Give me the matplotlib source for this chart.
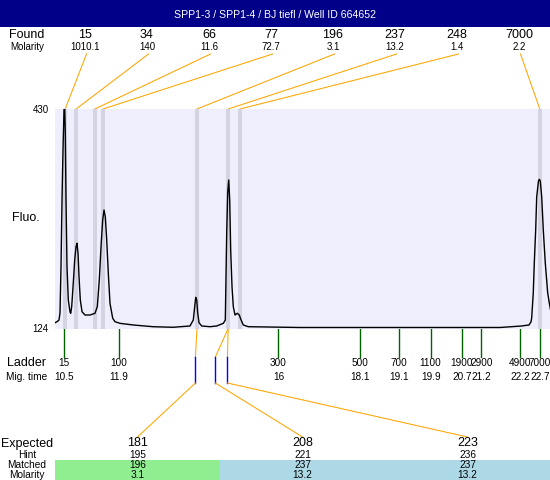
import matplotlib
matplotlib.use('Agg')
import matplotlib.pyplot as plt
from matplotlib.patches import Rectangle
from matplotlib.transforms import blended_transform_factory

plt.rcParams['font.family'] = ['Liberation Sans', 'DejaVu Sans']

title = "SPP1-3 / SPP1-4 / BJ tiefl / Well ID 664652"

# electropherogram trace: migration time vs fluorescence
trace_time = [10.269, 10.321, 10.372, 10.397, 10.423, 10.449, 10.474, 10.50, 10.515,
              10.533, 10.551, 10.577, 10.610, 10.654, 10.672, 10.697, 10.738, 10.774,
              10.808, 10.833, 10.859, 10.885, 10.918, 10.962, 11.038, 11.167, 11.295,
              11.354, 11.405, 11.449, 11.492, 11.526, 11.559, 11.595, 11.636, 11.679,
              11.749, 11.808, 11.936, 12.277, 12.782, 13.295, 13.731, 13.815, 13.851,
              13.877, 13.903, 13.928, 13.962, 14.031, 14.244, 14.415, 14.585, 14.636,
              14.672, 14.697, 14.723, 14.749, 14.774, 14.808, 14.841, 14.885, 14.944,
              14.995, 15.031, 15.097, 15.226, 16.551, 19.115, 21.679, 22.236, 22.321,
              22.423, 22.474, 22.492, 22.533, 22.559, 22.595, 22.621, 22.667, 22.687,
              22.713, 22.749, 22.790, 22.841, 22.903, 22.944, 22.987]
trace_fluo = [132.1, 133.5, 135.8, 145.6, 209.7, 303.1, 372.8, 428.5, 438.0,
              396.5, 303.1, 209.7, 163.7, 147.0, 145.2, 154.4, 187.4, 219.5,
              238.0, 242.8, 229.2, 196.2, 163.7, 147.4, 142.8, 142.8, 145.2,
              154.4, 191.6, 238.0, 275.2, 289.2, 279.8, 247.4, 201.0, 159.1,
              138.2, 133.5, 131.2, 128.9, 126.5, 125.7, 127.5, 135.8, 154.4,
              167.5, 163.7, 145.6, 132.1, 127.5, 126.5, 127.5, 131.2, 135.8,
              257.1, 312.9, 331.0, 303.1, 233.4, 182.3, 154.4, 142.8, 145.2,
              142.8, 137.2, 128.9, 126.5, 125.4, 125.4, 125.4, 127.5, 128.2,
              128.9, 133.1, 138.6, 173.5, 215.3, 261.3, 307.7, 329.6, 332.0,
              329.6, 307.7, 261.3, 215.3, 173.5, 159.5, 147.0]

found_size = ['15', '34', '66', '77', '196', '237', '248', '7000']
found_molarity = ['1010.1', '140', '11.6', '72.7', '3.1', '13.2', '1.4', '2.2']
found_time = [10.53, 10.81, 11.29, 11.50, 13.91, 14.71, 15.01, 22.70]

ladder_size = ['15', '100', '300', '500', '700', '1100', '1900', '2900', '4900', '7000']
ladder_time = [10.5, 11.9, 16, 18.1, 19.1, 19.9, 20.7, 21.2, 22.2, 22.7]

expected = ['181', '208', '223']
hint = ['195', '221', '236']
matched = ['196', '237', '237']
matched_molarity = ['3.1', '13.2', '13.2']
matched_found_idx = [4, 5, 5]
hint_time = [13.87, 14.38, 14.69]
match_color = ['#90EE90', '#ADD8E6', '#ADD8E6']

y_min, y_max = 124, 430
t_min, t_max = 10.269, 22.962

W, H = 550, 480
fig = plt.figure(figsize=(W / 100, H / 100), dpi=100)
fig.patch.set_facecolor('white')

plot_top, plot_bot, plot_left = 109, 328.5, 55
ax = fig.add_axes([plot_left / W, 1 - plot_bot / H, (W - plot_left) / W,
                   (plot_bot - plot_top) / H], zorder=2)
ov = fig.add_axes([0, 0, 1, 1], zorder=1)
ov.set_xlim(0, W)
ov.set_ylim(H, 0)
ov.axis('off')
ov.patch.set_alpha(0)

ax.set_facecolor('#EEEEFC')
ax.set_xlim(t_min, t_max)
ax.set_ylim(y_min, y_max)
for s in ax.spines.values():
    s.set_visible(False)
ax.set_xticks([])
ax.set_yticks([y_min, y_max])
ax.set_yticklabels([str(y_min), str(y_max)])
ax.tick_params(axis='y', length=0, labelsize=7, pad=4.5)
ax.set_ylabel('Fluo.', rotation=0, fontsize=9, ha='center', va='center')
ax.yaxis.set_label_coords(-(plot_left - 26) / (W - plot_left), 0.505)

for t in found_time:
    ax.axvspan(t - 0.052, t + 0.052, color='#D3D3E1', lw=0, zorder=1)
ax.plot(trace_time, trace_fluo, color='black', lw=1.0, zorder=3)

bt = blended_transform_factory(ax.transData, ov.transData)


def tx(t):
    d = ax.transData.transform((t, y_min))
    return ov.transData.inverted().transform(d)[0]


orange = '#FFA500'
# title bar
ov.add_patch(Rectangle((0, 0), W, 27, color='#000088', lw=0))
ov.text(W / 2, 14.5, title, color='white', fontsize=7.6, ha='center', va='center')

# found row
ov.text(27, 34.5, 'Found', fontsize=9, ha='center', va='center')
ov.text(27, 46.5, 'Molarity', fontsize=7, ha='center', va='center')
for i, (sz, mol, t) in enumerate(zip(found_size, found_molarity, found_time)):
    xl = 85 + 62 * i
    ov.text(xl, 34.5, sz, fontsize=9, ha='center', va='center')
    ov.text(xl, 46.5, mol, fontsize=7, ha='center', va='center')
    ov.plot([xl + 1.5, tx(t)], [54, plot_top], color=orange, lw=0.75)

# ladder
ov.text(27, 363, 'Ladder', fontsize=9, ha='center', va='center')
ov.text(27, 377, 'Mig. time', fontsize=7.3, ha='center', va='center')
for sz, t in zip(ladder_size, ladder_time):
    ov.plot([t, t], [plot_bot, 357], color='#006400', lw=1.0, transform=bt)
    ov.text(t, 363, sz, fontsize=7.2, ha='center', va='center', transform=bt)
    ov.text(t, 377, f'{t:g}', fontsize=7.2, ha='center', va='center', transform=bt)

# expected / hint / matched table
col_w = (W - plot_left) / len(expected)
for i in range(len(expected)):
    cx = plot_left + col_w * (i + 0.5)
    ov.add_patch(Rectangle((plot_left + col_w * i, 460), col_w, 20,
                           color=match_color[i], lw=0))
    ft = found_time[matched_found_idx[i]]
    ht = hint_time[i]
    ov.plot([ft, ht], [plot_bot, 357], color=orange, lw=0.75, transform=bt)
    ov.plot([ht, ht], [357, 383], color='#0000FF', lw=1.0, transform=bt)
    ov.plot([tx(ht), cx], [383, 437], color=orange, lw=0.75)
    ov.text(cx, 443.5, expected[i], fontsize=9, ha='center', va='center')
    ov.text(cx, 455, hint[i], fontsize=7.3, ha='center', va='center')
    ov.text(cx, 465.5, matched[i], fontsize=7.3, ha='center', va='center')
    ov.text(cx, 474.5, matched_molarity[i], fontsize=7.3, ha='center', va='center')

ov.text(27, 443.5, 'Expected', fontsize=9, ha='center', va='center')
ov.text(27, 455, 'Hint', fontsize=7.3, ha='center', va='center')
ov.text(27, 465.5, 'Matched', fontsize=7.3, ha='center', va='center')
ov.text(27, 474.5, 'Molarity', fontsize=7.3, ha='center', va='center')

fig.savefig('out.png', dpi=100)
